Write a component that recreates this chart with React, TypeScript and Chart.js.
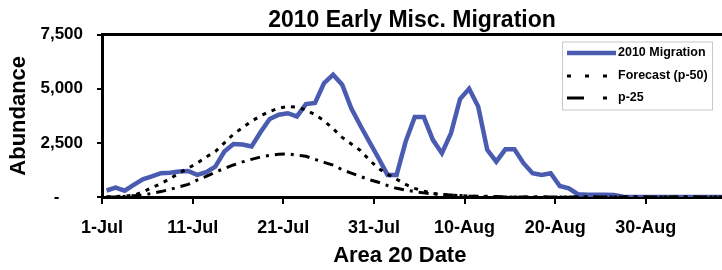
import React, { useEffect, useRef } from 'react';
import { Chart, registerables } from 'chart.js';

Chart.register(...registerables);

// Tick labels every 10 days starting 1-Jul (index 0)
const tickLabels = ['1-Jul', '11-Jul', '21-Jul', '31-Jul', '10-Aug', '20-Aug', '30-Aug'];

const seriesNames = ['2010 Migration', 'Forecast (p-50)', 'p-25'];

// Daily values, index 0 = 1-Jul
const migration2010 = [
  300, 430, 290, 560, 820, 950, 1100, 1120, 1180, 1200,
  1020, 1150, 1400, 2100, 2450, 2420, 2330, 3000, 3600, 3800,
  3870, 3720, 4290, 4340, 5260, 5650, 5190, 4100, 3300, 2550,
  1800, 1020, 1020, 2560, 3690, 3690, 2640, 2020, 2950, 4520,
  5000, 4180, 2180, 1630, 2200, 2200, 1560, 1100, 1020, 1100,
  510, 400, 130, 100, 100, 100, 90, 10, 0, 0,
  0, 0, 0, 0, 0, 0, 0, 0, 0,
];

const forecastP50 = [
  10, 20, 40, 80, 230, 430, 620, 850, 1100, 1330,
  1560, 1850, 2100, 2500, 2900, 3200, 3500, 3750, 3950, 4100,
  4180, 4150, 4020, 3800, 3520, 3150, 2750, 2450, 2150, 1710,
  1320, 1050, 820, 580, 400, 270, 170, 120, 90, 60,
  40, 20, 10, 0, 0, 0, 0, 0, 0, 0,
  0, 0, 0, 0, 0, 0, 0, 0, 0, 0,
  0, 0, 0, 0, 0, 0, 0, 0, 0,
];

const forecastP25 = [
  0, 10, 30, 60, 90, 170, 250, 350, 470, 580,
  780, 950, 1150, 1320, 1480, 1620, 1740, 1850, 1920, 1970,
  1990, 1930, 1880, 1740, 1600, 1470, 1260, 1100, 950, 800,
  680, 530, 400, 320, 250, 190, 140, 110, 90, 70,
  50, 40, 30, 20, 10, 0, 0, 0, 0, 0,
  0, 0, 0, 0, 0, 0, 0, 0, 0, 0,
  0, 0, 0, 0, 0, 0, 0, 0, 0,
];

const FONT = "'Liberation Sans', Arial, Helvetica, sans-serif";
const BLUE = '#4a5cb0';

const toPoints = (vals: number[]) => vals.map((v, i) => ({ x: i + 0.5, y: v }));

const legendDash: number[][] = [[], [4, 14], [17, 19, 4, 19]];

const boxLegend = {
  id: 'boxLegend',
  afterDraw(chart: any) {
    const ctx = chart.ctx as CanvasRenderingContext2D;
    const x0 = 562;
    const y0 = 41.5;
    const w = 150;
    const h = 68;
    ctx.save();
    ctx.fillStyle = '#ffffff';
    ctx.fillRect(x0, y0, w, h);
    ctx.strokeStyle = '#c8c8c8';
    ctx.lineWidth = 1;
    ctx.strokeRect(x0 + 0.5, y0 + 0.5, w, h);
    const rows = [53, 76, 98];
    chart.data.datasets.forEach((ds: any, i: number) => {
      const y = rows[i];
      ctx.beginPath();
      ctx.setLineDash(legendDash[i]);
      ctx.lineCap = 'butt';
      ctx.strokeStyle = ds.borderColor;
      ctx.lineWidth = ds.borderWidth;
      ctx.moveTo(567, y);
      ctx.lineTo(616, y);
      ctx.stroke();
      ctx.setLineDash([]);
      ctx.fillStyle = '#000';
      ctx.font = `bold 12.5px ${FONT}`;
      ctx.textBaseline = 'middle';
      ctx.textAlign = 'left';
      ctx.fillText(ds.label, 618, y);
    });
    ctx.restore();
  },
};

export default function App() {
  const ref = useRef<HTMLCanvasElement | null>(null);

  useEffect(() => {
    if (!ref.current) return;
    const chart = new Chart(ref.current, {
      type: 'line',
      data: {
        datasets: [
          {
            label: seriesNames[0],
            data: toPoints(migration2010),
            borderColor: BLUE,
            backgroundColor: BLUE,
            borderWidth: 4.5,
            pointRadius: 0,
            tension: 0,
            order: 3,
          },
          {
            label: seriesNames[1],
            data: toPoints(forecastP50),
            borderColor: '#000000',
            backgroundColor: '#000000',
            borderWidth: 3,
            borderDash: [4, 6],
            pointRadius: 0,
            tension: 0,
            order: 2,
          },
          {
            label: seriesNames[2],
            data: toPoints(forecastP25),
            borderColor: '#000000',
            backgroundColor: '#000000',
            borderWidth: 3,
            borderDash: [10, 6, 3, 6],
            pointRadius: 0,
            tension: 0,
            order: 1,
          },
        ],
      },
      options: {
        responsive: false,
        animation: false,
        devicePixelRatio: 1,
        layout: { padding: 0 },
        plugins: {
          legend: { display: false },
          tooltip: { enabled: false },
          title: {
            display: true,
            text: '2010 Early Misc. Migration',
            color: '#000',
            fullSize: false,
            font: { family: FONT, size: 23, weight: 'bold' },
            padding: { top: 7, bottom: 0 },
          },
        },
        scales: {
          x: {
            type: 'linear',
            position: 'bottom',
            min: 0,
            max: 68.4,
            border: { display: true, color: '#000', width: 3 },
            grid: {
              display: true,
              drawOnChartArea: false,
              drawTicks: true,
              tickLength: 7,
              color: '#000',
              lineWidth: 2,
            },
            ticks: {
              stepSize: 10,
              includeBounds: false,
              autoSkip: false,
              maxRotation: 0,
              padding: 13,
              color: '#000',
              font: { family: FONT, size: 18, weight: 'bold' },
              callback: (v: any) => tickLabels[Math.round(Number(v) / 10)] ?? '',
            },
            title: {
              display: true,
              text: 'Area 20 Date    ',
              color: '#000',
              font: { family: FONT, size: 22, weight: 'bold' },
              padding: { top: 2, bottom: 1 },
            },
            afterFit: (s: any) => {
              s.height = 73;
            },
          },
          x2: {
            type: 'linear',
            position: 'top',
            display: true,
            min: 0,
            max: 1,
            grid: { display: false, drawTicks: false },
            ticks: { display: false },
            border: { display: true, color: '#000', width: 3 },
            afterFit: (s: any) => {
              s.height = 0;
            },
          },
          y: {
            type: 'linear',
            min: 0,
            max: 7500,
            border: { display: true, color: '#000', width: 3 },
            grid: {
              display: true,
              drawOnChartArea: false,
              drawTicks: true,
              tickLength: 5,
              color: '#000',
              lineWidth: 2,
            },
            ticks: {
              stepSize: 2500,
              padding: 14,
              color: '#000',
              font: { family: FONT, size: 17, weight: 'bold' },
              callback: (v: any) =>
                Number(v) === 0 ? '-\u2007\u2007 ' : Number(v).toLocaleString('en-US'),
            },
            title: {
              display: true,
              text: 'Abundance',
              color: '#000',
              font: { family: FONT, size: 22, weight: 'bold' },
              padding: { top: 6, bottom: 0 },
            },
            afterFit: (s: any) => {
              s.width = 102;
            },
          },
        },
      } as any,
      plugins: [boxLegend],
    });
    return () => chart.destroy();
  }, []);

  return (
    <div style={{ position: 'fixed', left: 0, top: 0, width: 722, height: 270, background: '#fff' }}>
      <canvas ref={ref} width={722} height={270} style={{ display: 'block' }} />
    </div>
  );
}
